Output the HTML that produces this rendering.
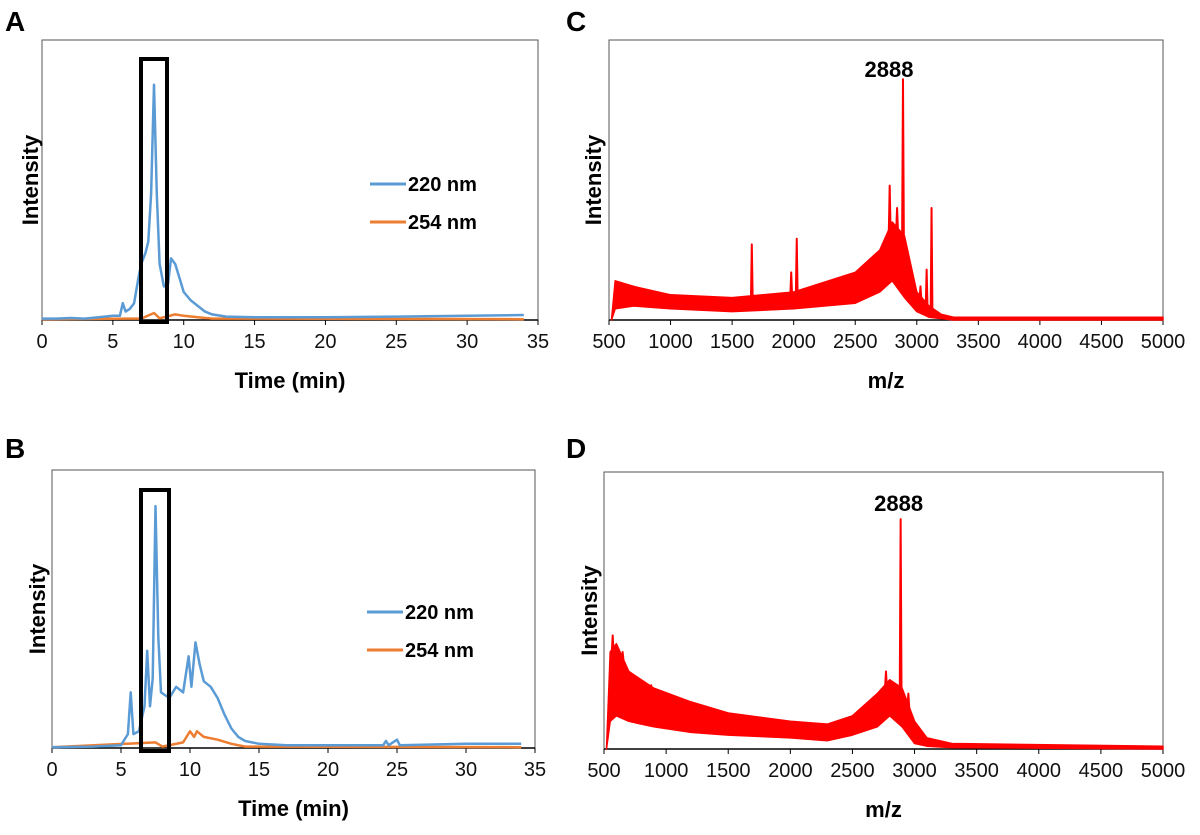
<!DOCTYPE html>
<html><head><meta charset="utf-8">
<style>
html,body{margin:0;padding:0;background:#fff;}
svg{display:block;font-family:"Liberation Sans",Arial,sans-serif;}
.tk{font-size:20px;fill:#111;}
.tt{font-size:22px;font-weight:bold;fill:#000;}
.pl{font-size:28px;font-weight:bold;fill:#000;}
</style></head>
<body>
<svg id="fig" width="1200" height="835" viewBox="0 0 1200 835">
</svg>
<script>
// ---- Chromatogram data (A, B) : time (min) and intensity (0-100 = frame height)
const tA = [0,1,2,3,4,5,5.5,5.7,5.9,6.2,6.5,6.8,7.0,7.3,7.5,7.7,7.9,8.1,8.3,8.6,8.9,9.1,9.4,9.7,10,10.5,11,11.5,12,13,15,20,25,30,34];
const blueA = [0.5,0.5,0.7,0.5,1,1.5,1.5,6,3,4,6,15,20,24,28,45,84,45,20,12,13,22,20,15,10,7,5,3,2,1.2,1,1,1.2,1.5,1.8];
const tAo = [0,7,7.9,8.3,9.4,10,11,12,34];
const orangeA = [0.3,0.5,2.5,0.6,2,1.5,1,0.5,0.3];
const tB = [0,3,5,5.5,5.7,5.9,6.3,6.7,6.9,7.1,7.3,7.5,7.7,7.9,8.5,9,9.5,9.9,10.1,10.4,10.7,11,11.5,12,12.5,13,13.5,14,15,17,24,24.2,24.4,25,25.2,30,34];
const blueB = [0.3,0.5,1,5,20,5,6,15,35,15,25,87,40,20,18,22,20,33,22,38,30,24,22,18,12,7,4,2.5,1.5,1,1,2.5,1,3,1,1.5,1.5];
const tBo = [0,7.5,8,9.5,10,10.3,10.5,11,12,13,14,34];
const orangeB = [0.3,2,0.5,2,6,4,6,4,3,1.5,0.5,0.3];
const timeTicks = [0,5,10,15,20,25,30,35];
// ---- MS data (C, D): noise band envelope + spikes
const mzC = [520,550,700,1000,1500,2000,2500,2700,2800,2900,3000,3100,3200,3300,4000,5000];
const lowC = [0,4,5,4,3,4,6,10,14,8,3,1,0.5,0,0,0];
const highC = [0,14,12,9,8,10,17,25,35,30,10,5,2,1,1,1];
const spikeMzC = [1660,1980,2025,2750,2780,2840,2888,3030,3080,3120];
const spikeC = [27,17,29,28,48,40,86,12,18,40];
const mzD = [520,550,600,700,900,1200,1500,2000,2300,2500,2700,2800,2900,3000,3100,3300,5000];
const lowD = [0,10,12,10,8,6,5,4,3,5,8,12,8,2,1,0.5,0];
const highD = [0,35,38,28,22,17,13,10,9,12,20,25,22,10,4,2,1];
const spikeMzD = [570,600,650,880,2770,2888,2950];
const spikeD = [41,36,35,23,28,83,20];
const mzTicks = [500,1000,1500,2000,2500,3000,3500,4000,4500,5000];

const NS="http://www.w3.org/2000/svg";
const svg=document.getElementById('fig');
function mk(tag,attrs,parent){const e=document.createElementNS(NS,tag);for(const k in attrs)e.setAttribute(k,attrs[k]);(parent||svg).appendChild(e);return e;}
function interp(xs,ys,x){for(let i=1;i<xs.length;i++){if(x<=xs[i]){const f=(x-xs[i-1])/(xs[i]-xs[i-1]);return ys[i-1]+f*(ys[i]-ys[i-1]);}}return ys[ys.length-1];}

function panel(o){
  const g=mk('g',{});
  
  
  const sx=v=>o.x0+(v-o.xmin)/(o.xmax-o.xmin)*(o.x1-o.x0);
  const sy=v=>o.y1-v/100*(o.y1-o.y0);
  const fr=mk('rect',{x:o.x0,y:o.y0,width:o.x1-o.x0,height:o.y1-o.y0,fill:'none',stroke:'#555','stroke-width':1},g);
  
  const ax=mk('line',{x1:o.x0,x2:o.x1,y1:o.y1,y2:o.y1,stroke:'#000','stroke-width':1.5},g);
  
  o.ticks.forEach(t=>{
    const tl=mk('line',{x1:sx(t),x2:sx(t),y1:o.y1,y2:o.y1+5,stroke:'#000'},g);
    
    const tx=mk('text',{x:sx(t),y:o.y1+28,'text-anchor':'middle',class:'tk'},g);tx.textContent=t;
    
  });
  const xt=mk('text',{x:(o.x0+o.x1)/2,y:o.y1+68,'text-anchor':'middle',class:'tt'},g);xt.textContent=o.xtitle;
  
  const yt=mk('text',{x:0,y:0,transform:`translate(${o.ylx},${(o.y0+o.y1)/2}) rotate(-90)`,'text-anchor':'middle',class:'tt'},g);yt.textContent='Intensity';
  
  const pl=mk('text',{x:o.lx,y:o.ly,class:'pl'},g);pl.textContent=o.letter;
  
  return {g,sx,sy};
}
function line(p,xs,ys,color,w,name){
  const d=xs.map((x,i)=>(i?'L':'M')+p.sx(x).toFixed(1)+','+p.sy(ys[i]).toFixed(1)).join('');
  const e=mk('path',{d,fill:'none',stroke:color,'stroke-width':w,'stroke-linejoin':'round'},p.g);
  
}
function band(p,xs,lo,hi,sm,sv,name){
  let d=xs.map((x,i)=>(i?'L':'M')+p.sx(x).toFixed(1)+','+p.sy(hi[i]).toFixed(1)).join('');
  for(let i=xs.length-1;i>=0;i--)d+='L'+p.sx(xs[i]).toFixed(1)+','+p.sy(lo[i]).toFixed(1);
  d+='Z';
  const e=mk('path',{d,fill:'#ff0000',stroke:'#ff0000','stroke-width':1.5,'stroke-linejoin':'round'},p.g);
  
  sm.forEach((m,i)=>{
    const b=interp(xs,hi,m)-1;
    const s=mk('path',{d:`M${p.sx(m-7)},${p.sy(b)}L${p.sx(m)},${p.sy(sv[i])}L${p.sx(m+7)},${p.sy(b)}Z`,fill:'#ff0000',stroke:'#ff0000','stroke-width':2,'stroke-linejoin':'round'},p.g);
    
  });
}
function box(p,x0,x1,y0,y1){
  const r=mk('rect',{x:x0,y:y0,width:x1-x0,height:y1-y0,fill:'none',stroke:'#000','stroke-width':4},p.g);
  
}
function legend(p,x,y){
  [['220 nm','#5b9bd5'],['254 nm','#ed7d31']].forEach((l,i)=>{
    const yy=y+i*38;
    const ln=mk('line',{x1:x,x2:x+36,y1:yy,y2:yy,stroke:l[1],'stroke-width':3},p.g);
    
    const t=mk('text',{x:x+38,y:yy+7,style:'font-size:20px;font-weight:bold'},p.g);t.textContent=l[0];
    
  });
}
// Panel A
const A=panel({name:'panel-a',x0:42,x1:538,y0:40,y1:320,xmin:0,xmax:35,ticks:timeTicks,xtitle:'Time (min)',ylx:38,letter:'A',lx:5,ly:31});
line(A,tAo,orangeA,'#ed7d31',2.5,'series-254nm');
line(A,tA,blueA,'#5b9bd5',2.5,'series-220nm');
box(A,141,167,59,322);legend(A,370,184);
// Panel B
const B=panel({name:'panel-b',x0:52,x1:535,y0:470,y1:748,xmin:0,xmax:35,ticks:timeTicks,xtitle:'Time (min)',ylx:45,letter:'B',lx:5,ly:458});
line(B,tBo,orangeB,'#ed7d31',2.5,'series-254nm');
line(B,tB,blueB,'#5b9bd5',2.5,'series-220nm');
box(B,141,169,490,751);legend(B,367,612);
// Panel C
const C=panel({name:'panel-c',x0:609,x1:1163,y0:40,y1:320,xmin:500,xmax:5000,ticks:mzTicks,xtitle:'m/z',ylx:601,letter:'C',lx:566,ly:31});
band(C,mzC,lowC,highC,spikeMzC,spikeC,'ms-spectrum');
let lc=mk('text',{x:C.sx(2888)-14,y:77,'text-anchor':'middle',class:'tt'},C.g);lc.textContent='2888';

// Panel D
const D=panel({name:'panel-d',x0:604,x1:1163,y0:472,y1:749,xmin:500,xmax:5000,ticks:mzTicks,xtitle:'m/z',ylx:597,letter:'D',lx:566,ly:458});
band(D,mzD,lowD,highD,spikeMzD,spikeD,'ms-spectrum');
let ld=mk('text',{x:D.sx(2888)-2,y:511,'text-anchor':'middle',class:'tt'},D.g);ld.textContent='2888';

</script>
</body></html>
